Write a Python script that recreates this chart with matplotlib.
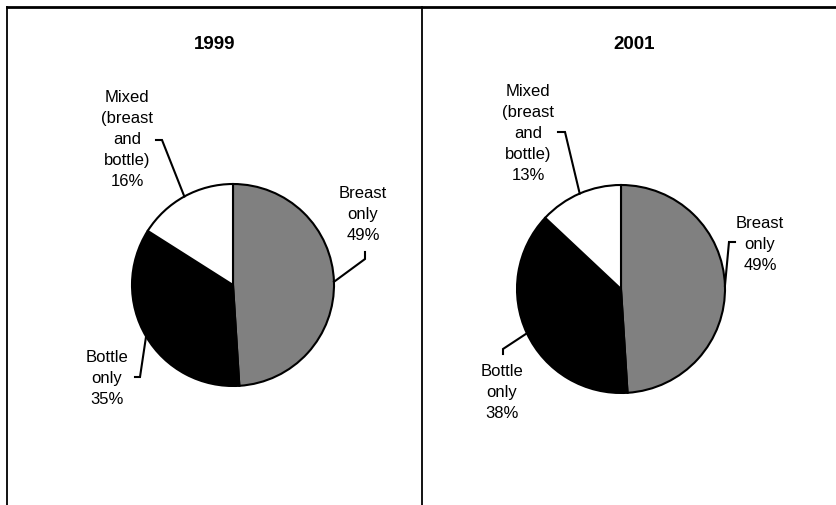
import numpy as np
import matplotlib
matplotlib.use('Agg')
import matplotlib.pyplot as plt

plt.rcParams['font.family'] = ['Liberation Sans', 'DejaVu Sans']

# data
years = ['1999', '2001']
categories = ['Breast\nonly', 'Bottle\nonly', 'Mixed\n(breast\nand\nbottle)']
shares_1999 = [49, 35, 16]
shares_2001 = [49, 38, 13]
colors = ['#808080', '#000000', '#ffffff']

W, H = 837, 506

# layout, in pixels from the top left corner
cell_edges = [7.5, 421.8, 846]
pie_centers = [(233, 286), (621, 290)]
pie_radius = [101, 104]
# text centre and leader (elbow, end) for each slice, per panel
label_pos = [
    [(363, 215), (107, 378.5), (127, 140)],
    [(760, 244), (502, 392), (528, 133)],
]
leader_pts = [
    [((365, 260), (365, 253)), ((140, 378), (135, 378)), ((162, 141), (156, 141))],
    [((729, 243), (735, 243)), ((503, 350), (503, 355)), ((565, 133), (558, 133))],
]


def Y(py):
    return H - py


fig = plt.figure(figsize=(W / 100, H / 100), dpi=100)
ax = fig.add_axes([0, 0, 1, 1])

for i, (year, shares) in enumerate(zip(years, [shares_1999, shares_2001])):
    cx, cy = pie_centers[i]
    r = pie_radius[i]
    wedges, _ = ax.pie(shares, colors=colors, startangle=90, counterclock=False,
                       center=(cx, Y(cy)), radius=r,
                       wedgeprops=dict(edgecolor='black', linewidth=1.5))
    for j, w in enumerate(wedges):
        mid = np.deg2rad((w.theta1 + w.theta2) / 2)
        sx, sy = cx + r * np.cos(mid), Y(cy) + r * np.sin(mid)
        (ex, ey), (tx, ty) = leader_pts[i][j]
        ax.plot([sx, ex, tx], [sy, Y(ey), Y(ty)], color='black', lw=1.5,
                solid_joinstyle='miter')
        lx, ly = label_pos[i][j]
        ax.text(lx, Y(ly), '%s\n%d%%' % (categories[j], shares[j]),
                ha='center', va='center', fontsize=12, linespacing=1.5)

    # title centred in its cell
    ax.text((cell_edges[i] + cell_edges[i + 1]) / 2, Y(44.5), year,
            ha='center', va='center', fontsize=13.5, fontweight='bold')

# table borders
ax.plot([cell_edges[0], W], [Y(8), Y(8)], color='black', lw=2)
for x in cell_edges[:2]:
    ax.plot([x, x], [Y(8), 0], color='black', lw=1.3)

ax.set_xlim(0, W)
ax.set_ylim(0, H)
ax.set_aspect('equal')
ax.axis('off')

fig.savefig('out.png', dpi=100)
